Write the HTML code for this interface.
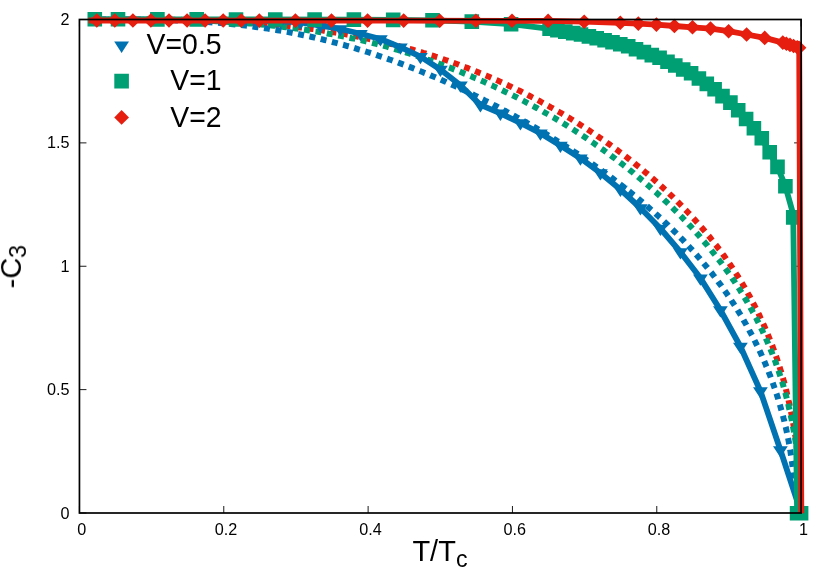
<!DOCTYPE html>
<html><head><meta charset="utf-8"><title>-C3 vs T/Tc</title>
<style>html,body{margin:0;padding:0;background:#fff;}svg{display:block;}</style>
</head><body>
<svg width="830" height="581" viewBox="0 0 830 581">
<rect width="830" height="581" fill="#fff"/>
<path d="M79.45,513.0 v-7 M79.45,19.5 v7 M223.78,513.0 v-7 M223.78,19.5 v7 M368.11,513.0 v-7 M368.11,19.5 v7 M512.44,513.0 v-7 M512.44,19.5 v7 M656.77,513.0 v-7 M656.77,19.5 v7 M801.10,513.0 v-7 M801.10,19.5 v7 M79.45,513.00 h7 M801.1,513.00 h-7 M79.45,389.62 h7 M801.1,389.62 h-7 M79.45,266.25 h7 M801.1,266.25 h-7 M79.45,142.88 h7 M801.1,142.88 h-7 M79.45,19.50 h7 M801.1,19.50 h-7" stroke="#000" stroke-width="0.9" fill="none"/>
<path d="M94.6,19.5 L97.4,19.5 L100.3,19.5 L103.1,19.5 L105.9,19.5 L108.7,19.5 L111.5,19.5 L114.3,19.5 L117.1,19.5 L119.9,19.5 L122.6,19.5 L125.4,19.5 L128.2,19.5 L130.9,19.5 L133.7,19.5 L136.4,19.5 L139.2,19.5 L141.9,19.5 L144.7,19.5 L147.4,19.5 L150.1,19.6 L152.8,19.6 L155.5,19.6 L158.2,19.6 L160.9,19.6 L163.6,19.6 L166.3,19.7 L169.0,19.7 L171.7,19.7 L174.3,19.8 L177.0,19.8 L179.7,19.8 L182.3,19.9 L185.0,19.9 L187.6,20.0 L190.2,20.0 L192.9,20.1 L195.5,20.2 L198.1,20.2 L200.7,20.3 L203.3,20.4 L205.9,20.5 L208.5,20.5 L211.1,20.6 L213.7,20.7 L216.3,20.8 L218.9,20.9 L221.4,21.0 L224.0,21.1 L226.5,21.3 L229.1,21.4 L231.6,21.5 L234.2,21.7 L236.7,21.8 L239.2,21.9 L241.8,22.1 L244.3,22.2 L246.8,22.4 L249.3,22.6 L251.8,22.7 L254.3,22.9 L256.8,23.1 L259.3,23.3 L261.7,23.5 L264.2,23.7 L266.7,23.9 L269.1,24.1 L271.6,24.3 L274.0,24.6 L276.5,24.8 L278.9,25.0 L281.3,25.3 L283.8,25.5 L286.2,25.8 L288.6,26.0 L291.0,26.3 L293.4,26.6 L295.8,26.9 L298.2,27.2 L300.6,27.4 L303.0,27.7 L305.4,28.0 L307.7,28.4 L310.1,28.7 L312.4,29.0 L314.8,29.3 L317.1,29.7 L319.5,30.0 L321.8,30.3 L324.1,30.7 L326.5,31.1 L328.8,31.4 L331.1,31.8 L333.4,32.2 L335.7,32.6 L338.0,32.9 L340.3,33.3 L342.6,33.7 L344.9,34.1 L347.1,34.6 L349.4,35.0 L351.7,35.4 L353.9,35.8 L356.2,36.3 L358.4,36.7 L360.6,37.2 L362.9,37.6 L365.1,38.1 L367.3,38.6 L369.5,39.0 L371.8,39.5 L374.0,40.0 L376.2,40.5 L378.4,41.0 L380.5,41.5 L382.7,42.0 L384.9,42.5 L387.1,43.0 L389.2,43.6 L391.4,44.1 L393.5,44.6 L395.7,45.2 L397.8,45.7 L400.0,46.3 L402.1,46.8 L404.2,47.4 L406.3,48.0 L408.5,48.5 L410.6,49.1 L412.7,49.7 L414.8,50.3 L416.9,50.9 L418.9,51.5 L421.0,52.1 L423.1,52.8 L425.2,53.4 L427.2,54.0 L429.3,54.6 L431.3,55.3 L433.4,55.9 L435.4,56.6 L437.5,57.2 L439.5,57.9 L441.5,58.6 L443.5,59.3 L445.5,60.0 L447.5,60.7 L449.5,61.4 L451.5,62.1 L453.5,62.8 L455.5,63.5 L457.5,64.2 L459.5,65.0 L461.4,65.7 L463.4,66.5 L465.3,67.2 L467.3,67.9 L469.2,68.7 L471.2,69.5 L473.1,70.2 L475.0,71.0 L477.0,71.8 L478.9,72.6 L480.8,73.3 L482.7,74.1 L484.6,74.9 L486.5,75.7 L488.4,76.5 L490.2,77.3 L492.1,78.1 L494.0,79.0 L495.8,79.8 L497.7,80.6 L499.6,81.4 L501.4,82.3 L503.2,83.1 L505.1,84.0 L506.9,84.8 L508.7,85.7 L510.6,86.5 L512.4,87.4 L514.2,88.2 L516.0,89.1 L517.8,90.0 L519.6,90.8 L521.4,91.7 L523.1,92.6 L524.9,93.5 L526.7,94.4 L528.4,95.3 L530.2,96.2 L531.9,97.1 L533.7,98.0 L535.4,98.9 L537.2,99.8 L538.9,100.7 L540.6,101.7 L542.3,102.6 L544.0,103.5 L545.7,104.4 L547.4,105.4 L549.1,106.3 L550.8,107.3 L552.5,108.2 L554.2,109.2 L555.9,110.1 L557.5,111.1 L559.2,112.0 L560.8,113.0 L562.5,113.9 L564.1,114.9 L565.8,115.9 L567.4,116.9 L569.0,117.8 L570.6,118.8 L572.3,119.8 L573.9,120.8 L575.5,121.8 L577.1,122.8 L578.7,123.8 L580.2,124.8 L581.8,125.8 L583.4,126.8 L585.0,127.8 L586.5,128.8 L588.1,129.8 L589.6,130.8 L591.2,131.9 L592.7,132.9 L594.3,133.9 L595.8,134.9 L597.3,136.0 L598.8,137.0 L600.3,138.1 L601.8,139.1 L603.4,140.1 L604.8,141.2 L606.3,142.2 L607.8,143.3 L609.3,144.3 L610.8,145.4 L612.2,146.4 L613.7,147.5 L615.2,148.6 L616.6,149.6 L618.0,150.7 L619.5,151.8 L620.9,152.8 L622.3,153.9 L623.8,155.0 L625.2,156.1 L626.6,157.2 L628.0,158.3 L629.4,159.3 L630.8,160.4 L632.2,161.5 L633.6,162.6 L634.9,163.7 L636.3,164.8 L637.7,165.9 L639.0,167.0 L640.4,168.1 L641.7,169.2 L643.1,170.4 L644.4,171.5 L645.7,172.6 L647.1,173.7 L648.4,174.8 L649.7,176.0 L651.0,177.1 L652.3,178.2 L653.6,179.3 L654.9,180.5 L656.2,181.6 L657.5,182.7 L658.7,183.9 L660.0,185.0 L661.3,186.2 L662.5,187.3 L663.8,188.5 L665.0,189.6 L666.3,190.8 L667.5,191.9 L668.7,193.1 L669.9,194.3 L671.2,195.4 L672.4,196.6 L673.6,197.8 L674.8,198.9 L676.0,200.1 L677.2,201.3 L678.3,202.5 L679.5,203.6 L680.7,204.8 L681.9,206.0 L683.0,207.2 L684.2,208.4 L685.3,209.6 L686.5,210.8 L687.6,212.0 L688.7,213.2 L689.9,214.4 L691.0,215.6 L692.1,216.8 L693.2,218.0 L694.3,219.2 L695.4,220.4 L696.5,221.7 L697.6,222.9 L698.7,224.1 L699.7,225.3 L700.8,226.6 L701.9,227.8 L702.9,229.0 L704.0,230.3 L705.0,231.5 L706.1,232.7 L707.1,234.0 L708.1,235.2 L709.2,236.5 L710.2,237.7 L711.2,239.0 L712.2,240.3 L713.2,241.5 L714.2,242.8 L715.2,244.1 L716.2,245.3 L717.2,246.6 L718.1,247.9 L719.1,249.2 L720.1,250.4 L721.0,251.7 L722.0,253.0 L722.9,254.3 L723.9,255.6 L724.8,256.9 L725.7,258.2 L726.6,259.5 L727.6,260.8 L728.5,262.1 L729.4,263.4 L730.3,264.8 L731.2,266.1 L732.1,267.4 L732.9,268.7 L733.8,270.1 L734.7,271.4 L735.5,272.7 L736.4,274.1 L737.3,275.4 L738.1,276.8 L739.0,278.1 L739.8,279.5 L740.6,280.8 L741.4,282.2 L742.3,283.5 L743.1,284.9 L743.9,286.3 L744.7,287.6 L745.5,289.0 L746.3,290.4 L747.1,291.8 L747.8,293.2 L748.6,294.6 L749.4,295.9 L750.2,297.3 L750.9,298.7 L751.7,300.1 L752.4,301.6 L753.1,303.0 L753.9,304.4 L754.6,305.8 L755.3,307.2 L756.1,308.6 L756.8,310.1 L757.5,311.5 L758.2,312.9 L758.9,314.4 L759.6,315.8 L760.2,317.3 L760.9,318.7 L761.6,320.2 L762.3,321.6 L762.9,323.1 L763.6,324.5 L764.2,326.0 L764.9,327.5 L765.5,329.0 L766.1,330.4 L766.8,331.9 L767.4,333.4 L768.0,334.9 L768.6,336.4 L769.2,337.9 L769.8,339.4 L770.4,340.9 L771.0,342.4 L771.6,343.9 L772.2,345.4 L772.7,346.9 L773.3,348.5 L773.9,350.0 L774.4,351.5 L775.0,353.0 L775.5,354.6 L776.0,356.1 L776.6,357.7 L777.1,359.2 L777.6,360.8 L778.1,362.3 L778.6,363.9 L779.1,365.4 L779.6,367.0 L780.1,368.6 L780.6,370.1 L781.1,371.7 L781.6,373.3 L782.0,374.9 L782.5,376.4 L782.9,378.0 L783.4,379.6 L783.8,381.2 L784.3,382.9 L784.7,384.5 L785.1,386.2 L785.6,387.8 L786.0,389.5 L786.4,391.1 L786.8,392.8 L787.2,394.5 L787.6,396.1 L788.0,397.8 L788.4,399.4 L788.7,401.1 L789.1,402.8 L789.5,404.4 L789.8,406.1 L790.2,407.8 L790.5,409.4 L790.9,411.1 L791.2,412.8 L791.6,414.5 L791.9,416.1 L792.2,417.8 L792.5,419.5 L792.8,421.2 L793.1,422.9 L793.4,424.5 L793.7,426.2 L794.0,427.9 L794.3,429.6 L794.6,431.3 L794.8,433.0 L795.1,434.7 L795.4,436.3 L795.6,438.0 L795.9,439.7 L796.1,441.4 L796.3,443.1 L796.6,444.8 L796.8,446.5 L797.0,448.2 L797.2,449.9 L797.4,451.6 L797.6,453.3 L797.8,455.0 L798.0,456.7 L798.2,458.4 L798.4,460.1 L798.5,461.8 L798.7,463.5 L798.9,465.2 L799.0,466.9 L799.2,468.6 L799.3,470.3 L799.5,472.0 L799.6,473.7 L799.7,475.4 L799.8,477.1 L800.0,478.8 L800.1,480.5 L800.2,482.2 L800.3,483.9 L800.4,485.6 L800.5,487.4 L800.5,489.1 L800.6,490.8 L800.7,492.5 L800.8,494.2 L800.8,495.9 L800.9,497.6 L800.9,499.3 L801.0,501.0 L801.0,502.7 L801.0,504.4 L801.1,506.2 L801.1,507.9 L801.1,509.6 L801.1,511.3 L801.1,513.0" stroke="#e51e10" stroke-width="6" stroke-dasharray="6 5.55" stroke-dashoffset="-5.5" fill="none"/>
<path d="M94.6,19.5 L97.4,19.5 L100.3,19.5 L103.1,19.5 L105.9,19.5 L108.7,19.5 L111.5,19.5 L114.3,19.5 L117.1,19.5 L119.9,19.5 L122.6,19.5 L125.4,19.5 L128.2,19.5 L130.9,19.5 L133.7,19.5 L136.4,19.5 L139.2,19.5 L141.9,19.5 L144.7,19.6 L147.4,19.6 L150.1,19.6 L152.8,19.6 L155.5,19.6 L158.2,19.7 L160.9,19.7 L163.6,19.7 L166.3,19.7 L169.0,19.8 L171.7,19.8 L174.3,19.9 L177.0,19.9 L179.7,20.0 L182.3,20.0 L185.0,20.1 L187.6,20.2 L190.2,20.2 L192.9,20.3 L195.5,20.4 L198.1,20.5 L200.7,20.6 L203.3,20.7 L205.9,20.8 L208.5,20.9 L211.1,21.0 L213.7,21.1 L216.3,21.2 L218.9,21.3 L221.4,21.5 L224.0,21.6 L226.5,21.8 L229.1,21.9 L231.6,22.1 L234.2,22.2 L236.7,22.4 L239.2,22.6 L241.8,22.8 L244.3,23.0 L246.8,23.2 L249.3,23.4 L251.8,23.6 L254.3,23.8 L256.8,24.0 L259.3,24.2 L261.7,24.5 L264.2,24.7 L266.7,25.0 L269.1,25.2 L271.6,25.5 L274.0,25.7 L276.5,26.0 L278.9,26.3 L281.3,26.6 L283.8,26.9 L286.2,27.2 L288.6,27.5 L291.0,27.8 L293.4,28.1 L295.8,28.4 L298.2,28.8 L300.6,29.1 L303.0,29.4 L305.4,29.8 L307.7,30.2 L310.1,30.5 L312.4,30.9 L314.8,31.3 L317.1,31.6 L319.5,32.0 L321.8,32.4 L324.1,32.8 L326.5,33.2 L328.8,33.7 L331.1,34.1 L333.4,34.5 L335.7,34.9 L338.0,35.4 L340.3,35.8 L342.6,36.3 L344.9,36.7 L347.1,37.2 L349.4,37.7 L351.7,38.2 L353.9,38.6 L356.2,39.1 L358.4,39.6 L360.6,40.1 L362.9,40.6 L365.1,41.2 L367.3,41.7 L369.5,42.2 L371.8,42.7 L374.0,43.3 L376.2,43.8 L378.4,44.4 L380.5,44.9 L382.7,45.5 L384.9,46.1 L387.1,46.7 L389.2,47.4 L391.4,48.0 L393.5,48.6 L395.7,49.3 L397.8,49.9 L400.0,50.6 L402.1,51.2 L404.2,51.9 L406.3,52.6 L408.5,53.2 L410.6,53.9 L412.7,54.6 L414.8,55.3 L416.9,56.0 L418.9,56.7 L421.0,57.4 L423.1,58.1 L425.2,58.8 L427.2,59.5 L429.3,60.2 L431.3,60.9 L433.4,61.7 L435.4,62.4 L437.5,63.1 L439.5,63.9 L441.5,64.6 L443.5,65.4 L445.5,66.1 L447.5,66.9 L449.5,67.6 L451.5,68.4 L453.5,69.2 L455.5,70.0 L457.5,70.7 L459.5,71.5 L461.4,72.3 L463.4,73.1 L465.3,73.9 L467.3,74.7 L469.2,75.5 L471.2,76.3 L473.1,77.2 L475.0,78.0 L477.0,78.8 L478.9,79.6 L480.8,80.5 L482.7,81.3 L484.6,82.1 L486.5,83.0 L488.4,83.8 L490.2,84.7 L492.1,85.5 L494.0,86.4 L495.8,87.3 L497.7,88.1 L499.6,89.0 L501.4,89.9 L503.2,90.8 L505.1,91.7 L506.9,92.5 L508.7,93.4 L510.6,94.3 L512.4,95.2 L514.2,96.1 L516.0,97.0 L517.8,98.0 L519.6,98.9 L521.4,99.8 L523.1,100.7 L524.9,101.6 L526.7,102.6 L528.4,103.5 L530.2,104.4 L531.9,105.4 L533.7,106.3 L535.4,107.3 L537.2,108.2 L538.9,109.2 L540.6,110.1 L542.3,111.1 L544.0,112.1 L545.7,113.0 L547.4,114.0 L549.1,115.0 L550.8,116.0 L552.5,117.0 L554.2,117.9 L555.9,118.9 L557.5,119.9 L559.2,120.9 L560.8,121.9 L562.5,122.9 L564.1,123.9 L565.8,124.9 L567.4,125.9 L569.0,127.0 L570.6,128.0 L572.3,129.0 L573.9,130.0 L575.5,131.1 L577.1,132.1 L578.7,133.1 L580.2,134.1 L581.8,135.2 L583.4,136.2 L585.0,137.3 L586.5,138.3 L588.1,139.4 L589.6,140.4 L591.2,141.5 L592.7,142.5 L594.3,143.6 L595.8,144.7 L597.3,145.7 L598.8,146.8 L600.3,147.9 L601.8,148.9 L603.4,150.0 L604.8,151.1 L606.3,152.2 L607.8,153.2 L609.3,154.3 L610.8,155.4 L612.2,156.5 L613.7,157.6 L615.2,158.7 L616.6,159.8 L618.0,160.9 L619.5,162.0 L620.9,163.1 L622.3,164.2 L623.8,165.3 L625.2,166.4 L626.6,167.5 L628.0,168.6 L629.4,169.8 L630.8,170.9 L632.2,172.0 L633.6,173.1 L634.9,174.3 L636.3,175.4 L637.7,176.5 L639.0,177.6 L640.4,178.8 L641.7,179.9 L643.1,181.0 L644.4,182.2 L645.7,183.3 L647.1,184.5 L648.4,185.6 L649.7,186.8 L651.0,187.9 L652.3,189.1 L653.6,190.2 L654.9,191.4 L656.2,192.5 L657.5,193.7 L658.7,194.8 L660.0,196.0 L661.3,197.2 L662.5,198.3 L663.8,199.5 L665.0,200.7 L666.3,201.8 L667.5,203.0 L668.7,204.2 L669.9,205.3 L671.2,206.5 L672.4,207.7 L673.6,208.9 L674.8,210.1 L676.0,211.2 L677.2,212.4 L678.3,213.6 L679.5,214.8 L680.7,216.0 L681.9,217.2 L683.0,218.4 L684.2,219.6 L685.3,220.8 L686.5,222.0 L687.6,223.2 L688.7,224.4 L689.9,225.6 L691.0,226.8 L692.1,228.0 L693.2,229.2 L694.3,230.4 L695.4,231.7 L696.5,232.9 L697.6,234.1 L698.7,235.3 L699.7,236.5 L700.8,237.8 L701.9,239.0 L702.9,240.2 L704.0,241.4 L705.0,242.7 L706.1,243.9 L707.1,245.1 L708.1,246.4 L709.2,247.6 L710.2,248.9 L711.2,250.1 L712.2,251.4 L713.2,252.6 L714.2,253.9 L715.2,255.1 L716.2,256.4 L717.2,257.6 L718.1,258.9 L719.1,260.1 L720.1,261.4 L721.0,262.7 L722.0,263.9 L722.9,265.2 L723.9,266.5 L724.8,267.8 L725.7,269.0 L726.6,270.3 L727.6,271.6 L728.5,272.9 L729.4,274.2 L730.3,275.5 L731.2,276.7 L732.1,278.0 L732.9,279.3 L733.8,280.6 L734.7,281.9 L735.5,283.2 L736.4,284.5 L737.3,285.8 L738.1,287.2 L739.0,288.5 L739.8,289.8 L740.6,291.1 L741.4,292.4 L742.3,293.8 L743.1,295.1 L743.9,296.4 L744.7,297.7 L745.5,299.1 L746.3,300.4 L747.1,301.8 L747.8,303.1 L748.6,304.4 L749.4,305.8 L750.2,307.1 L750.9,308.5 L751.7,309.8 L752.4,311.2 L753.1,312.6 L753.9,313.9 L754.6,315.3 L755.3,316.7 L756.1,318.0 L756.8,319.4 L757.5,320.8 L758.2,322.2 L758.9,323.6 L759.6,325.0 L760.2,326.4 L760.9,327.7 L761.6,329.1 L762.3,330.5 L762.9,332.0 L763.6,333.4 L764.2,334.8 L764.9,336.2 L765.5,337.6 L766.1,339.0 L766.8,340.4 L767.4,341.9 L768.0,343.3 L768.6,344.7 L769.2,346.2 L769.8,347.6 L770.4,349.0 L771.0,350.5 L771.6,351.9 L772.2,353.4 L772.7,354.8 L773.3,356.3 L773.9,357.7 L774.4,359.2 L775.0,360.7 L775.5,362.1 L776.0,363.6 L776.6,365.1 L777.1,366.6 L777.6,368.0 L778.1,369.5 L778.6,371.0 L779.1,372.5 L779.6,374.0 L780.1,375.5 L780.6,377.0 L781.1,378.5 L781.6,380.0 L782.0,381.5 L782.5,383.0 L782.9,384.5 L783.4,386.0 L783.8,387.6 L784.3,389.1 L784.7,390.7 L785.1,392.3 L785.6,393.9 L786.0,395.5 L786.4,397.0 L786.8,398.6 L787.2,400.2 L787.6,401.8 L788.0,403.4 L788.4,405.0 L788.7,406.6 L789.1,408.2 L789.5,409.7 L789.8,411.3 L790.2,412.9 L790.5,414.5 L790.9,416.1 L791.2,417.7 L791.6,419.3 L791.9,420.9 L792.2,422.5 L792.5,424.1 L792.8,425.7 L793.1,427.3 L793.4,428.9 L793.7,430.5 L794.0,432.1 L794.3,433.7 L794.6,435.3 L794.8,436.9 L795.1,438.5 L795.4,440.2 L795.6,441.8 L795.9,443.4 L796.1,445.0 L796.3,446.6 L796.6,448.2 L796.8,449.8 L797.0,451.4 L797.2,453.0 L797.4,454.7 L797.6,456.3 L797.8,457.9 L798.0,459.5 L798.2,461.1 L798.4,462.7 L798.5,464.3 L798.7,466.0 L798.9,467.6 L799.0,469.2 L799.2,470.8 L799.3,472.4 L799.5,474.1 L799.6,475.7 L799.7,477.3 L799.8,478.9 L800.0,480.5 L800.1,482.2 L800.2,483.8 L800.3,485.4 L800.4,487.0 L800.5,488.6 L800.5,490.3 L800.6,491.9 L800.7,493.5 L800.8,495.1 L800.8,496.8 L800.9,498.4 L800.9,500.0 L801.0,501.6 L801.0,503.3 L801.0,504.9 L801.1,506.5 L801.1,508.1 L801.1,509.8 L801.1,511.4 L801.1,513.0" stroke="#009e73" stroke-width="6" stroke-dasharray="6 5.55" stroke-dashoffset="-2" fill="none"/>
<path d="M94.6,19.5 L97.4,19.5 L100.2,19.5 L103.0,19.5 L105.8,19.5 L108.6,19.5 L111.4,19.5 L114.1,19.5 L116.9,19.5 L119.7,19.5 L122.4,19.5 L125.2,19.5 L127.9,19.5 L130.6,19.5 L133.4,19.6 L136.1,19.6 L138.8,19.6 L141.5,19.6 L144.2,19.6 L147.0,19.7 L149.6,19.7 L152.3,19.7 L155.0,19.8 L157.7,19.8 L160.4,19.9 L163.1,20.0 L165.7,20.0 L168.4,20.1 L171.0,20.2 L173.7,20.3 L176.3,20.4 L179.0,20.5 L181.6,20.6 L184.2,20.7 L186.8,20.8 L189.5,20.9 L192.1,21.0 L194.7,21.2 L197.3,21.3 L199.9,21.5 L202.4,21.7 L205.0,21.8 L207.6,22.0 L210.2,22.2 L212.7,22.4 L215.3,22.6 L217.8,22.8 L220.4,23.0 L222.9,23.2 L225.5,23.5 L228.0,23.7 L230.5,24.0 L233.0,24.2 L235.6,24.5 L238.1,24.8 L240.6,25.0 L243.1,25.3 L245.5,25.6 L248.0,25.9 L250.5,26.2 L253.0,26.6 L255.5,26.9 L257.9,27.2 L260.4,27.6 L262.8,27.9 L265.3,28.3 L267.7,28.6 L270.1,29.0 L272.6,29.4 L275.0,29.8 L277.4,30.2 L279.8,30.6 L282.2,31.0 L284.6,31.5 L287.0,31.9 L289.4,32.3 L291.8,32.8 L294.2,33.3 L296.5,33.7 L298.9,34.2 L301.3,34.7 L303.6,35.2 L306.0,35.7 L308.3,36.2 L310.7,36.7 L313.0,37.2 L315.3,37.8 L317.6,38.3 L320.0,38.8 L322.3,39.4 L324.6,40.0 L326.9,40.5 L329.2,41.1 L331.5,41.7 L333.7,42.3 L336.0,42.9 L338.3,43.5 L340.6,44.1 L342.8,44.7 L345.1,45.3 L347.3,46.0 L349.6,46.6 L351.8,47.3 L354.0,47.9 L356.3,48.6 L358.5,49.3 L360.7,49.9 L362.9,50.6 L365.1,51.3 L367.3,52.0 L369.5,52.7 L371.7,53.4 L373.9,54.1 L376.0,54.8 L378.2,55.6 L380.4,56.3 L382.5,57.0 L384.7,57.8 L386.8,58.5 L389.0,59.3 L391.1,60.0 L393.2,60.8 L395.4,61.6 L397.5,62.3 L399.6,63.1 L401.7,63.9 L403.8,64.7 L405.9,65.5 L408.0,66.3 L410.1,67.1 L412.2,67.9 L414.2,68.7 L416.3,69.5 L418.4,70.4 L420.4,71.2 L422.5,72.0 L424.5,72.9 L426.6,73.7 L428.6,74.5 L430.6,75.4 L432.6,76.2 L434.7,77.1 L436.7,78.0 L438.7,78.8 L440.7,79.7 L442.7,80.6 L444.7,81.4 L446.6,82.3 L448.6,83.2 L450.6,84.1 L452.6,85.0 L454.5,85.9 L456.5,86.8 L458.4,87.7 L460.4,88.6 L462.3,89.5 L464.2,90.4 L466.2,91.3 L468.1,92.2 L470.0,93.1 L471.9,94.0 L473.8,95.0 L475.7,95.9 L477.6,96.8 L479.5,97.8 L481.4,98.7 L483.3,99.6 L485.1,100.6 L487.0,101.5 L488.9,102.4 L490.7,103.4 L492.6,104.3 L494.4,105.3 L496.3,106.2 L498.1,107.2 L499.9,108.2 L501.7,109.1 L503.5,110.1 L505.4,111.0 L507.2,112.0 L509.0,113.0 L510.8,113.9 L512.5,114.9 L514.3,115.9 L516.1,116.9 L517.9,117.8 L519.6,118.8 L521.4,119.8 L523.1,120.8 L524.9,121.8 L526.6,122.8 L528.4,123.7 L530.1,124.7 L531.8,125.7 L533.5,126.7 L535.3,127.7 L537.0,128.7 L538.7,129.7 L540.4,130.7 L542.1,131.7 L543.7,132.7 L545.4,133.7 L547.1,134.7 L548.8,135.7 L550.4,136.7 L552.1,137.7 L553.7,138.8 L555.4,139.8 L557.0,140.8 L558.7,141.8 L560.3,142.8 L561.9,143.8 L563.5,144.9 L565.1,145.9 L566.7,146.9 L568.4,147.9 L569.9,149.0 L571.5,150.0 L573.1,151.0 L574.7,152.1 L576.3,153.1 L577.8,154.1 L579.4,155.2 L581.0,156.2 L582.5,157.2 L584.1,158.3 L585.6,159.3 L587.1,160.4 L588.7,161.4 L590.2,162.5 L591.7,163.5 L593.2,164.6 L594.7,165.6 L596.2,166.7 L597.7,167.7 L599.2,168.8 L600.7,169.8 L602.2,170.9 L603.6,171.9 L605.1,173.0 L606.6,174.1 L608.0,175.1 L609.5,176.2 L610.9,177.3 L612.3,178.3 L613.8,179.4 L615.2,180.5 L616.6,181.6 L618.0,182.6 L619.4,183.7 L620.8,184.8 L622.2,185.9 L623.6,187.0 L625.0,188.0 L626.4,189.1 L627.8,190.2 L629.2,191.3 L630.5,192.4 L631.9,193.5 L633.2,194.6 L634.6,195.7 L635.9,196.8 L637.3,197.9 L638.6,199.0 L639.9,200.1 L641.2,201.2 L642.6,202.3 L643.9,203.4 L645.2,204.5 L646.5,205.6 L647.8,206.8 L649.0,207.9 L650.3,209.0 L651.6,210.1 L652.9,211.2 L654.1,212.4 L655.4,213.5 L656.6,214.6 L657.9,215.7 L659.1,216.9 L660.4,218.0 L661.6,219.1 L662.8,220.3 L664.0,221.4 L665.2,222.6 L666.5,223.7 L667.7,224.8 L668.8,226.0 L670.0,227.1 L671.2,228.3 L672.4,229.5 L673.6,230.6 L674.7,231.8 L675.9,232.9 L677.1,234.1 L678.2,235.3 L679.4,236.4 L680.5,237.6 L681.6,238.8 L682.8,239.9 L683.9,241.1 L685.0,242.3 L686.1,243.5 L687.2,244.6 L688.3,245.8 L689.4,247.0 L690.5,248.2 L691.6,249.4 L692.7,250.6 L693.7,251.8 L694.8,253.0 L695.9,254.2 L696.9,255.4 L698.0,256.6 L699.0,257.8 L700.1,259.0 L701.1,260.2 L702.1,261.4 L703.1,262.6 L704.1,263.8 L705.2,265.1 L706.2,266.3 L707.2,267.5 L708.2,268.7 L709.1,270.0 L710.1,271.2 L711.1,272.4 L712.1,273.7 L713.0,274.9 L714.0,276.1 L715.0,277.4 L715.9,278.6 L716.8,279.9 L717.8,281.1 L718.7,282.4 L719.6,283.6 L720.6,284.9 L721.5,286.1 L722.4,287.4 L723.3,288.6 L724.2,289.9 L725.1,291.2 L726.0,292.4 L726.8,293.7 L727.7,295.0 L728.6,296.3 L729.5,297.5 L730.3,298.8 L731.2,300.1 L732.0,301.4 L732.9,302.7 L733.7,303.9 L734.5,305.2 L735.3,306.5 L736.2,307.8 L737.0,309.1 L737.8,310.4 L738.6,311.7 L739.4,313.0 L740.2,314.3 L741.0,315.6 L741.7,316.9 L742.5,318.3 L743.3,319.6 L744.0,320.9 L744.8,322.2 L745.5,323.5 L746.3,324.8 L747.0,326.2 L747.8,327.5 L748.5,328.8 L749.2,330.2 L749.9,331.5 L750.6,332.8 L751.4,334.2 L752.1,335.5 L752.8,336.8 L753.4,338.2 L754.1,339.5 L754.8,340.9 L755.5,342.2 L756.1,343.6 L756.8,344.9 L757.5,346.3 L758.1,347.6 L758.8,349.0 L759.4,350.4 L760.0,351.7 L760.7,353.1 L761.3,354.5 L761.9,355.8 L762.5,357.2 L763.1,358.6 L763.7,359.9 L764.3,361.3 L764.9,362.7 L765.5,364.1 L766.0,365.5 L766.6,366.8 L767.2,368.2 L767.7,369.6 L768.3,371.0 L768.8,372.4 L769.4,373.8 L769.9,375.2 L770.5,376.6 L771.0,378.0 L771.5,379.4 L772.0,380.8 L772.5,382.2 L773.0,383.6 L773.5,385.0 L774.0,386.4 L774.5,387.8 L775.0,389.2 L775.5,390.6 L775.9,392.0 L776.4,393.4 L776.9,394.9 L777.3,396.3 L777.8,397.7 L778.2,399.1 L778.6,400.5 L779.1,402.0 L779.5,403.4 L779.9,404.8 L780.3,406.2 L780.7,407.7 L781.1,409.1 L781.5,410.5 L781.9,412.0 L782.3,413.4 L782.7,414.8 L783.1,416.3 L783.4,417.7 L783.8,419.2 L784.2,420.6 L784.5,422.0 L784.9,423.5 L785.2,424.9 L785.5,426.4 L785.9,427.8 L786.2,429.3 L786.5,430.7 L786.8,432.2 L787.1,433.6 L787.4,435.1 L787.7,436.5 L788.0,438.0 L788.3,439.4 L788.6,440.9 L788.8,442.3 L789.1,443.8 L789.4,445.3 L789.6,446.7 L789.9,448.2 L790.1,449.7 L790.4,451.1 L790.6,452.6 L790.8,454.1 L791.0,455.5 L791.3,457.0 L791.5,458.5 L791.7,460.0 L791.9,461.4 L792.1,462.9 L792.3,464.4 L792.4,465.8 L792.6,467.3 L792.8,468.8 L793.0,470.2 L793.1,471.7 L793.3,473.2 L793.4,474.7 L793.6,476.1 L793.7,477.6 L793.8,479.1 L794.0,480.6 L794.1,482.0 L794.2,483.5 L794.3,485.0 L794.4,486.5 L794.5,487.9" stroke="#0072b2" stroke-width="6" stroke-dasharray="6 5.55" stroke-dashoffset="3.45" fill="none"/>
<path d="M262.0,20.6 L280.4,21.3 L300.4,22.3 L320.4,25.7 L340.4,29.0 L360.4,33.7 L380.4,39.0 L400.4,47.2 L420.4,56.6 L440.4,69.5 L460.4,85.2 L480.4,104.9 L500.4,113.3 L520.4,123.0 L540.4,133.2 L560.4,145.4 L580.4,158.2 L600.4,173.0 L620.4,189.5 L640.4,208.0 L660.4,228.5 L680.4,252.0 L700.4,278.1 L720.4,310.0 L740.4,346.5 L760.4,391.0 L780.4,450.0 L801.1,513.0" stroke="#0072b2" stroke-width="5.8" fill="none" stroke-linejoin="round"/>
<path d="M273.0,17.6h14.8l-7.4,11.3z M293.0,18.6h14.8l-7.4,11.3z M313.0,22.0h14.8l-7.4,11.3z M333.0,25.3h14.8l-7.4,11.3z M353.0,30.0h14.8l-7.4,11.3z M373.0,35.3h14.8l-7.4,11.3z M393.0,43.5h14.8l-7.4,11.3z M413.0,52.9h14.8l-7.4,11.3z M433.0,65.8h14.8l-7.4,11.3z M453.0,81.5h14.8l-7.4,11.3z M473.0,101.2h14.8l-7.4,11.3z M493.0,109.6h14.8l-7.4,11.3z M513.0,119.3h14.8l-7.4,11.3z M533.0,129.5h14.8l-7.4,11.3z M553.0,141.7h14.8l-7.4,11.3z M573.0,154.5h14.8l-7.4,11.3z M593.0,169.3h14.8l-7.4,11.3z M613.0,185.8h14.8l-7.4,11.3z M633.0,204.3h14.8l-7.4,11.3z M653.0,224.8h14.8l-7.4,11.3z M673.0,248.3h14.8l-7.4,11.3z M693.0,274.4h14.8l-7.4,11.3z M713.0,306.3h14.8l-7.4,11.3z M733.0,342.8h14.8l-7.4,11.3z M753.0,387.3h14.8l-7.4,11.3z M773.0,446.3h14.8l-7.4,11.3z" fill="#0072b2"/>
<path d="M94.8,19.3 L353.5,19.6 L392.7,19.9 L431.7,20.3 L471.5,21.6 L511.3,24.2 L549.8,28.8 L581.6,34.6 L597.0,38.4 L620.1,44.2 L627.8,46.1 L635.5,49.0 L643.3,51.9 L651.0,54.8 L659.6,57.7 L667.3,61.6 L675.1,65.4 L682.8,69.3 L691.1,73.3 L698.9,78.5 L706.8,83.9 L714.6,89.3 L722.5,96.1 L730.4,102.6 L738.2,110.3 L746.1,119.0 L753.9,128.2 L761.8,138.3 L769.7,152.3 L777.5,166.9 L785.4,186.2 L793.2,214.3 L797.1,513.0 L801.1,513.0" stroke="#009e73" stroke-width="5.8" fill="none" stroke-linejoin="round"/>
<path d="M87.5,12.0h14.6v14.6h-14.6z M110.7,12.0h14.6v14.6h-14.6z M150.1,12.1h14.6v14.6h-14.6z M189.4,12.1h14.6v14.6h-14.6z M228.7,12.2h14.6v14.6h-14.6z M268.0,12.2h14.6v14.6h-14.6z M307.3,12.3h14.6v14.6h-14.6z M346.6,12.3h14.6v14.6h-14.6z M385.9,12.6h14.6v14.6h-14.6z M425.2,13.0h14.6v14.6h-14.6z M464.5,14.3h14.6v14.6h-14.6z M503.8,16.9h14.6v14.6h-14.6z M542.3,21.5h14.6v14.6h-14.6z M550.1,22.9h14.6v14.6h-14.6z M558.0,24.3h14.6v14.6h-14.6z M565.9,25.8h14.6v14.6h-14.6z M573.7,27.2h14.6v14.6h-14.6z M581.6,29.1h14.6v14.6h-14.6z M589.4,31.0h14.6v14.6h-14.6z M597.3,33.0h14.6v14.6h-14.6z M605.2,35.0h14.6v14.6h-14.6z M613.0,37.0h14.6v14.6h-14.6z M620.9,38.9h14.6v14.6h-14.6z M628.7,41.9h14.6v14.6h-14.6z M636.6,44.8h14.6v14.6h-14.6z M644.5,47.8h14.6v14.6h-14.6z M652.3,50.4h14.6v14.6h-14.6z M660.2,54.4h14.6v14.6h-14.6z M668.0,58.2h14.6v14.6h-14.6z M675.9,62.2h14.6v14.6h-14.6z M683.8,66.0h14.6v14.6h-14.6z M691.6,71.2h14.6v14.6h-14.6z M699.5,76.6h14.6v14.6h-14.6z M707.3,82.0h14.6v14.6h-14.6z M715.2,88.8h14.6v14.6h-14.6z M723.1,95.3h14.6v14.6h-14.6z M730.9,103.0h14.6v14.6h-14.6z M738.8,111.7h14.6v14.6h-14.6z M746.6,121.0h14.6v14.6h-14.6z M754.5,131.0h14.6v14.6h-14.6z M762.4,144.9h14.6v14.6h-14.6z M770.2,159.6h14.6v14.6h-14.6z M778.1,178.9h14.6v14.6h-14.6z M785.9,210.1h14.6v14.6h-14.6z M789.8,505.9h14.6v14.6h-14.6z M793.8,505.9h14.6v14.6h-14.6z" fill="#009e73"/>
<path d="M88.6,20.5 L403.9,20.6 L548.3,20.9 L584.2,21.7 L620.3,22.8 L638.4,23.6 L656.4,24.6 L674.5,26.0 L692.5,27.3 L710.5,28.6 L728.6,31.2 L746.6,34.5 L764.7,37.9 L782.8,42.6 L799.2,47.8 L801.3,513.2" stroke="#e51e10" stroke-width="5.8" fill="none" stroke-linejoin="round"/>
<path d="M89.4,20.5l7.4,-7.3l7.4,7.3l-7.4,7.3z M107.4,20.5l7.4,-7.3l7.4,7.3l-7.4,7.3z M125.5,20.5l7.4,-7.3l7.4,7.3l-7.4,7.3z M143.5,20.5l7.4,-7.3l7.4,7.3l-7.4,7.3z M161.6,20.5l7.4,-7.3l7.4,7.3l-7.4,7.3z M179.7,20.5l7.4,-7.3l7.4,7.3l-7.4,7.3z M197.7,20.5l7.4,-7.3l7.4,7.3l-7.4,7.3z M215.8,20.5l7.4,-7.3l7.4,7.3l-7.4,7.3z M233.8,20.5l7.4,-7.3l7.4,7.3l-7.4,7.3z M251.9,20.6l7.4,-7.3l7.4,7.3l-7.4,7.3z M288.0,20.6l7.4,-7.3l7.4,7.3l-7.4,7.3z M324.1,20.6l7.4,-7.3l7.4,7.3l-7.4,7.3z M360.2,20.6l7.4,-7.3l7.4,7.3l-7.4,7.3z M396.3,20.6l7.4,-7.3l7.4,7.3l-7.4,7.3z M432.4,20.7l7.4,-7.3l7.4,7.3l-7.4,7.3z M468.5,20.7l7.4,-7.3l7.4,7.3l-7.4,7.3z M504.6,20.8l7.4,-7.3l7.4,7.3l-7.4,7.3z M540.7,20.9l7.4,-7.3l7.4,7.3l-7.4,7.3z M576.8,21.7l7.4,-7.3l7.4,7.3l-7.4,7.3z M612.9,22.8l7.4,-7.3l7.4,7.3l-7.4,7.3z M630.9,23.6l7.4,-7.3l7.4,7.3l-7.4,7.3z M649.0,24.6l7.4,-7.3l7.4,7.3l-7.4,7.3z M667.0,26.0l7.4,-7.3l7.4,7.3l-7.4,7.3z M685.1,27.3l7.4,-7.3l7.4,7.3l-7.4,7.3z M703.1,28.6l7.4,-7.3l7.4,7.3l-7.4,7.3z M721.2,31.2l7.4,-7.3l7.4,7.3l-7.4,7.3z M739.2,34.5l7.4,-7.3l7.4,7.3l-7.4,7.3z M757.3,37.9l7.4,-7.3l7.4,7.3l-7.4,7.3z M775.4,42.6l7.4,-7.3l7.4,7.3l-7.4,7.3z M779.0,43.8l7.4,-7.3l7.4,7.3l-7.4,7.3z M782.6,44.9l7.4,-7.3l7.4,7.3l-7.4,7.3z M786.2,46.0l7.4,-7.3l7.4,7.3l-7.4,7.3z M789.8,47.2l7.4,-7.3l7.4,7.3l-7.4,7.3z M791.6,47.7l7.4,-7.3l7.4,7.3l-7.4,7.3z" fill="#e51e10"/>
<path d="M114.2,41.6h14.8l-7.4,11.3z" fill="#0072b2"/>
<path d="M114.3,73.8h14.6v14.6h-14.6z" fill="#009e73"/>
<path d="M114.2,117.4l7.4,-7.3l7.4,7.3l-7.4,7.3z" fill="#e51e10"/>
<rect x="79.45" y="19.5" width="721.65" height="493.50" fill="none" stroke="#000" stroke-width="1.7"/>
<g font-family="Liberation Sans, sans-serif" fill="#000" opacity="0.999">
<g font-size="16.2">
<text x="81.8" y="534.6" text-anchor="middle">0</text>
<text x="226.1" y="534.6" text-anchor="middle">0.2</text>
<text x="370.4" y="534.6" text-anchor="middle">0.4</text>
<text x="514.7" y="534.6" text-anchor="middle">0.6</text>
<text x="659.1" y="534.6" text-anchor="middle">0.8</text>
<text x="803.4" y="534.6" text-anchor="middle">1</text>
<text x="69.6" y="519.0" text-anchor="end">0</text>
<text x="69.6" y="395.0" text-anchor="end">0.5</text>
<text x="69.6" y="272.0" text-anchor="end">1</text>
<text x="69.6" y="148.0" text-anchor="end">1.5</text>
<text x="69.6" y="25.0" text-anchor="end">2</text>
</g>
<g font-size="28.4" text-anchor="end">
<text transform="translate(221.6,54.4) scale(1,1.07)">V=0.5</text>
<text transform="translate(221.6,90.4) scale(1,1.07)">V=1</text>
<text transform="translate(221.6,127.2) scale(1,1.07)">V=2</text>
</g>
<text transform="translate(412.4,561.4) scale(1,1.035)" font-size="29">T/T<tspan font-size="23.2" dy="5.3">c</tspan></text>
<text transform="translate(20.9,288.4) rotate(-90) scale(1,1.035)" font-size="29">-C<tspan font-size="23.2" dy="5">3</tspan></text>
</g>
</svg>
</body></html>
